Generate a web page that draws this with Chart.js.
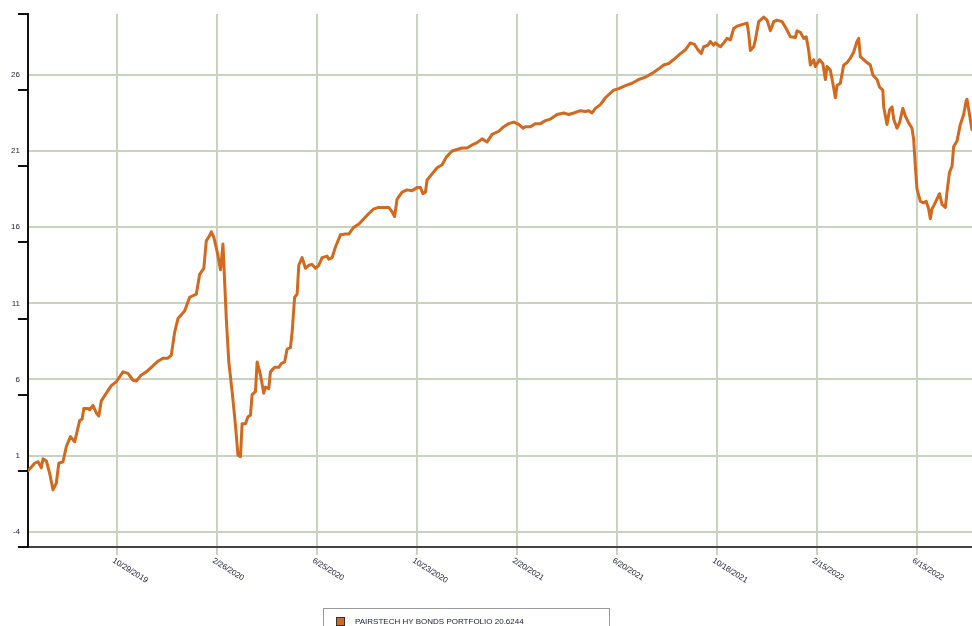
<!DOCTYPE html>
<html>
<head>
<meta charset="utf-8">
<script src="https://cdn.jsdelivr.net/npm/chart.js@4.4.1/dist/chart.umd.min.js"></script>
<style>
html,body{margin:0;padding:0;background:#fff;overflow:hidden}
#wrap{width:972px;height:626px;position:relative}
</style>
</head>
<body>
<div id="wrap"><canvas id="c" width="972" height="626"></canvas></div>
<script>
const seriesLabel = 'PAIRSTECH HY BONDS PORTFOLIO 20.6244';

const dates = [
'2019-07-14','2019-07-22','2019-07-26','2019-07-30','2019-08-01','2019-08-05','2019-08-09','2019-08-13','2019-08-17','2019-08-20',
'2019-08-25','2019-08-29','2019-09-03','2019-09-08','2019-09-14','2019-09-17','2019-09-19','2019-09-24','2019-09-26','2019-09-30',
'2019-10-04','2019-10-07','2019-10-10','2019-10-16','2019-10-22','2019-10-28','2019-11-05','2019-11-11','2019-11-17','2019-11-21',
'2019-11-27','2019-12-03','2019-12-09','2019-12-17','2019-12-23','2019-12-29','2020-01-02','2020-01-06','2020-01-10','2020-01-18',
'2020-01-24','2020-02-01','2020-02-05','2020-02-10','2020-02-13','2020-02-17','2020-02-19','2020-02-22','2020-02-26','2020-03-01',
'2020-03-04','2020-03-08','2020-03-11','2020-03-15','2020-03-19','2020-03-22','2020-03-25','2020-03-27','2020-03-31','2020-04-03',
'2020-04-06','2020-04-08','2020-04-12','2020-04-14','2020-04-18','2020-04-22','2020-04-24','2020-04-28','2020-04-30','2020-05-05',
'2020-05-10','2020-05-13','2020-05-17','2020-05-20','2020-05-24','2020-05-26','2020-05-29','2020-06-01','2020-06-03','2020-06-07',
'2020-06-11','2020-06-15','2020-06-19','2020-06-23','2020-06-27','2020-07-01','2020-07-07','2020-07-09','2020-07-13','2020-07-17',
'2020-07-23','2020-07-29','2020-08-02','2020-08-08','2020-08-14','2020-08-20','2020-08-26','2020-09-01','2020-09-07','2020-09-13',
'2020-09-19','2020-09-23','2020-09-26','2020-09-29','2020-10-05','2020-10-11','2020-10-17','2020-10-23','2020-10-27','2020-10-30',
'2020-11-02','2020-11-04','2020-11-10','2020-11-16','2020-11-22','2020-11-27','2020-12-04','2020-12-10','2020-12-16','2020-12-22',
'2020-12-28','2021-01-03','2021-01-09','2021-01-15','2021-01-21','2021-01-29','2021-02-04','2021-02-10','2021-02-16','2021-02-22',
'2021-02-27','2021-03-02','2021-03-08','2021-03-14','2021-03-20','2021-03-26','2021-04-01','2021-04-09','2021-04-17','2021-04-23',
'2021-04-29','2021-05-07','2021-05-13','2021-05-17','2021-05-21','2021-05-25','2021-05-31','2021-06-06','2021-06-12','2021-06-16',
'2021-06-22','2021-06-30','2021-07-08','2021-07-16','2021-07-24','2021-08-01','2021-08-09','2021-08-15','2021-08-21','2021-08-29',
'2021-09-04','2021-09-10','2021-09-16','2021-09-21','2021-09-25','2021-09-29','2021-10-02','2021-10-07','2021-10-10','2021-10-14',
'2021-10-16','2021-10-22','2021-10-26','2021-10-30','2021-11-03','2021-11-07','2021-11-11','2021-11-17','2021-11-23','2021-11-25',
'2021-11-27','2021-12-01','2021-12-03','2021-12-07','2021-12-13','2021-12-17','2021-12-21','2021-12-25','2021-12-29','2022-01-04',
'2022-01-09','2022-01-14','2022-01-20','2022-01-22','2022-01-26','2022-01-30','2022-02-02','2022-02-05','2022-02-07','2022-02-11',
'2022-02-13','2022-02-18','2022-02-22','2022-02-25','2022-02-27','2022-03-03','2022-03-06','2022-03-09','2022-03-11','2022-03-15',
'2022-03-19','2022-03-23','2022-03-27','2022-03-31','2022-04-04','2022-04-06','2022-04-08','2022-04-14','2022-04-20','2022-04-23',
'2022-04-28','2022-05-01','2022-05-05','2022-05-06','2022-05-10','2022-05-13','2022-05-16','2022-05-18','2022-05-22','2022-05-25',
'2022-05-29','2022-06-01','2022-06-05','2022-06-09','2022-06-11','2022-06-13','2022-06-15','2022-06-19','2022-06-23','2022-06-26',
'2022-06-29','2022-07-01','2022-07-03','2022-07-05','2022-07-09','2022-07-12','2022-07-15','2022-07-19','2022-07-21','2022-07-24',
'2022-07-27','2022-07-29','2022-08-02','2022-08-06','2022-08-10','2022-08-13','2022-08-14','2022-08-17','2022-08-20'
];

const values = [
0.0,0.5,0.6,0.2,0.8,0.65,-0.16,-1.25,-0.8,0.5,
0.6,1.6,2.25,1.9,3.3,3.4,4.1,4.1,4.0,4.3,
3.8,3.6,4.6,5.1,5.6,5.85,6.5,6.4,5.95,5.9,
6.3,6.5,6.8,7.2,7.4,7.4,7.6,9.1,10.0,10.5,
11.4,11.6,12.9,13.3,15.1,15.45,15.7,15.35,14.4,13.2,
14.9,10.0,7.15,5.2,3.0,1.04,0.93,3.1,3.1,3.55,
3.65,5.0,5.2,7.15,6.3,5.1,5.5,5.4,6.5,6.8,
6.8,7.05,7.15,8.0,8.1,9.1,11.4,11.6,13.5,14.0,
13.3,13.5,13.55,13.3,13.5,14.0,14.1,13.9,14.0,14.7,
15.5,15.55,15.55,16.0,16.2,16.55,16.9,17.2,17.3,17.3,
17.3,17.0,16.7,17.85,18.3,18.45,18.4,18.6,18.6,18.2,
18.3,19.1,19.5,19.9,20.1,20.6,21.0,21.1,21.2,21.2,
21.4,21.55,21.8,21.6,22.1,22.3,22.6,22.8,22.9,22.75,
22.5,22.6,22.6,22.8,22.8,23.0,23.1,23.4,23.5,23.4,
23.5,23.65,23.6,23.65,23.5,23.8,24.05,24.5,24.8,25.0,
25.1,25.3,25.45,25.7,25.85,26.1,26.4,26.65,26.75,27.1,
27.4,27.65,28.1,28.0,27.65,27.4,27.85,27.95,28.2,27.95,
28.1,27.85,28.1,28.4,28.3,29.05,29.2,29.3,29.4,28.7,
27.6,27.85,28.3,29.5,29.8,29.6,28.9,29.5,29.6,29.5,
29.05,28.5,28.45,28.9,28.8,28.4,28.5,27.6,26.65,27.0,
26.55,27.0,26.75,25.7,26.55,26.3,25.45,24.5,25.3,25.45,
26.65,26.8,27.1,27.5,28.2,28.4,27.2,26.9,26.65,26.0,
25.7,25.2,25.0,23.9,22.75,23.7,23.9,23.1,22.5,22.85,
23.8,23.3,22.85,22.5,21.75,20.0,18.5,17.7,17.6,17.7,
17.2,16.55,17.2,17.4,17.85,18.2,17.5,17.3,18.3,19.6,
20.0,21.3,21.65,22.75,23.4,24.3,24.4,23.4,22.4
];

const xTickDates = ['2019-10-29','2020-02-26','2020-06-25','2020-10-23','2021-02-20','2021-06-20','2021-10-18','2022-02-15','2022-06-15'];
const xTickLabels = ['10/29/2019','2/26/2020','6/25/2020','10/23/2020','2/20/2021','6/20/2021','10/18/2021','2/15/2022','6/15/2022'];
const xRange = ['2019-07-14','2022-08-20'];
const yTickValues = [-4, 1, 6, 11, 16, 21, 26];
const yTickMarkValues = [-5, 0, 5, 10, 15, 20, 25, 30];
const yRange = [-5, 30];

function dayNum(s) {
  const p = s.split('-').map(Number);
  return Date.UTC(p[0], p[1] - 1, p[2]) / 864e5;
}

const LINE_COLOR = '#D2691E';
const GRID_COLOR = '#c9d1bf';
const TEXT_COLOR = '#23233a';
const FONT_FAMILY = '"Liberation Sans", Arial, sans-serif';

const decor = {
  id: 'decor',
  afterDraw(chart) {
    const ctx = chart.ctx;
    const xs = chart.scales.x, ys = chart.scales.y, area = chart.chartArea;
    ctx.save();
    // y axis tick marks
    ctx.strokeStyle = '#111';
    ctx.lineWidth = 2;
    yTickMarkValues.forEach(v => {
      const py = Math.round(ys.getPixelForValue(v));
      ctx.beginPath();
      ctx.moveTo(area.left - 10, py);
      ctx.lineTo(area.left, py);
      ctx.stroke();
    });
    // rotated x labels
    ctx.fillStyle = TEXT_COLOR;
    ctx.font = '8px ' + FONT_FAMILY;
    ctx.textAlign = 'left';
    ctx.textBaseline = 'middle';
    xTickDates.forEach((d, i) => {
      const px = xs.getPixelForValue(dayNum(d));
      ctx.save();
      ctx.translate(px - 4, area.bottom + 13);
      ctx.rotate(32 * Math.PI / 180);
      ctx.fillText(xTickLabels[i], 0, 0);
      ctx.restore();
    });
    // legend box
    const ds = chart.data.datasets[0];
    ctx.strokeStyle = '#9a9a9a';
    ctx.lineWidth = 1;
    ctx.strokeRect(323.5, 608.5, 286, 40);
    ctx.fillStyle = ds.borderColor;
    ctx.fillRect(336.5, 617.5, 8, 8);
    ctx.strokeStyle = '#333';
    ctx.strokeRect(336.5, 617.5, 8, 8);
    ctx.fillStyle = TEXT_COLOR;
    ctx.textBaseline = 'middle';
    ctx.fillText(ds.label, 355, 621.5);
    ctx.restore();
  }
};

new Chart(document.getElementById('c').getContext('2d'), {
  type: 'line',
  data: {
    datasets: [{
      label: seriesLabel,
      data: dates.map((d, i) => ({ x: dayNum(d), y: values[i] })),
      borderColor: LINE_COLOR,
      backgroundColor: LINE_COLOR,
      borderWidth: 3,
      pointRadius: 0,
      tension: 0,
      fill: false,
      borderJoinStyle: 'round',
      borderCapStyle: 'round'
    }]
  },
  options: {
    responsive: false,
    animation: false,
    events: [],
    layout: { padding: { top: 14, left: 0, right: 0, bottom: 0 } },
    plugins: { legend: { display: false }, tooltip: { enabled: false } },
    scales: {
      x: {
        type: 'linear',
        min: dayNum(xRange[0]),
        max: dayNum(xRange[1]),
        afterBuildTicks: s => { s.ticks = xTickDates.map(d => ({ value: dayNum(d) })); },
        afterFit: s => { s.height = 79; },
        ticks: { display: false },
        grid: { color: GRID_COLOR, lineWidth: 2, drawTicks: true, tickLength: 8 },
        border: { display: true, color: '#444', width: 2 }
      },
      y: {
        min: yRange[0],
        max: yRange[1],
        afterBuildTicks: s => { s.ticks = yTickValues.map(v => ({ value: v })); },
        afterFit: s => { s.width = 28; },
        ticks: { color: TEXT_COLOR, padding: 8, font: { size: 8, family: FONT_FAMILY } },
        grid: { color: GRID_COLOR, lineWidth: 2, drawTicks: false },
        border: { display: true, color: '#111', width: 2 }
      }
    }
  },
  plugins: [decor]
});
</script>
</body>
</html>
